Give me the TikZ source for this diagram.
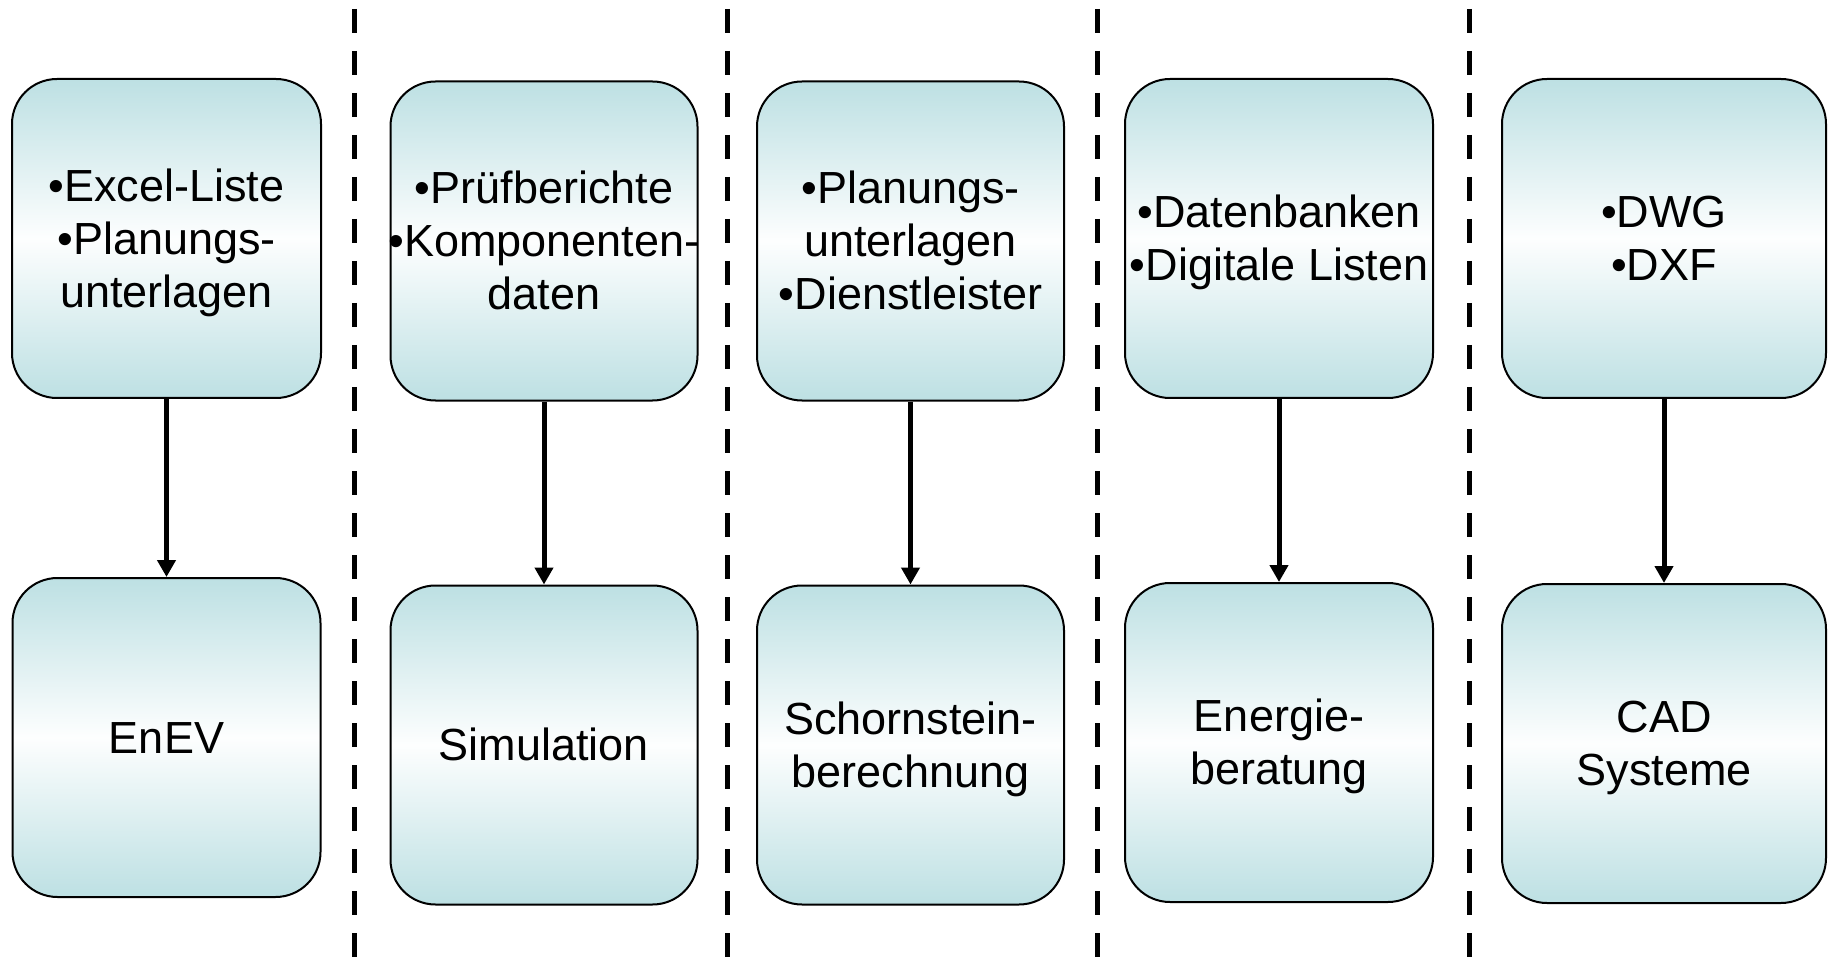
\documentclass[tikz,border=0pt]{standalone}
\usepackage{fontspec}
\setmainfont{Liberation Sans}
\usetikzlibrary{arrows.meta}
\definecolor{boxteal}{RGB}{189,224,227}
\newcommand{\lnstrut}{\rule[-0.212em]{0pt}{1.117em}}
\begin{document}
\begin{tikzpicture}[x=1pt,y=-1pt,
  box/.style={draw=black, line width=2pt, rounded corners=45pt, inner sep=0pt,
    top color=boxteal, bottom color=boxteal, middle color=white!97!boxteal,
    minimum height=319pt, align=center,
    font=\fontsize{45}{53}\selectfont},
  sep/.style={line width=5pt, dash pattern=on 24pt off 18pt},
  flow/.style={line width=5pt, -{Triangle[width=18pt,length=17pt]}}]
\useasboundingbox (0,0) rectangle (1831,957);
% separators
\coordinate (s1t) at (354,9);   \coordinate (s1b) at (354,957);
\coordinate (s2t) at (727,9);   \coordinate (s2b) at (727,957);
\coordinate (s3t) at (1097,9);  \coordinate (s3b) at (1097,957);
\coordinate (s4t) at (1469,9);  \coordinate (s4b) at (1469,957);
\draw[sep] (s1t) -- (s1b);
\draw[sep] (s2t) -- (s2b);
\draw[sep] (s3t) -- (s3b);
\draw[sep] (s4t) -- (s4b);
% top boxes
\node[box, minimum width=309pt] (a1) at (166.5,238.5) {\lnstrut•Excel-Liste\\\lnstrut•Planungs-\\\lnstrut unterlagen};
\node[box, minimum width=307pt] (a2) at (544,241) {\lnstrut•Prüfberichte\\\lnstrut\makebox[290pt]{•Komponenten-}\\\lnstrut daten};
\node[box, minimum width=307pt] (a3) at (910.5,241) {\lnstrut•Planungs-\\\lnstrut unterlagen\\\lnstrut•Dienstleister};
\node[box, minimum width=308pt] (a4) at (1279,238.5) {\lnstrut•Datenbanken\\\lnstrut•Digitale Listen};
\node[box, minimum width=324pt] (a5) at (1664,238.5) {\lnstrut•DWG\\\lnstrut•DXF};
% bottom boxes
\node[box, minimum width=308pt] (b1) at (166.5,737.5) {\lnstrut EnEV};
\node[box, minimum width=307pt] (b2) at (544,745) {\lnstrut Simulation};
\node[box, minimum width=307pt] (b3) at (910.5,745) {\lnstrut Schornstein-\\\lnstrut berechnung};
\node[box, minimum width=308pt] (b4) at (1279,742.5) {\lnstrut Energie-\\\lnstrut beratung};
\node[box, minimum width=324pt] (b5) at (1664,743.5) {\lnstrut CAD\\\lnstrut Systeme};
% arrows
\draw[flow] (a1) -- (b1);
\draw[flow] (a2) -- (b2);
\draw[flow] (a3) -- (b3);
\draw[flow] (a4) -- (b4);
\draw[flow] (a5) -- (b5);
\end{tikzpicture}
\end{document}
